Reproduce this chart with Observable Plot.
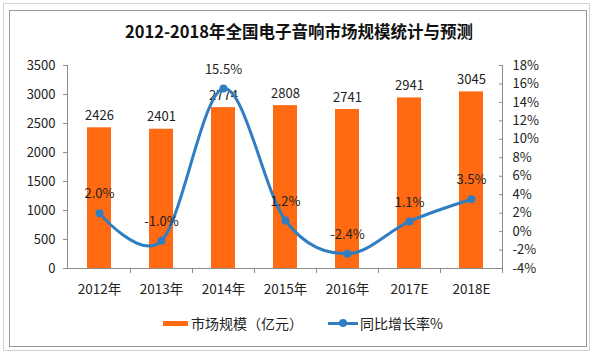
<!DOCTYPE html>
<html>
<head>
<meta charset="utf-8">
<script src="https://cdn.jsdelivr.net/npm/d3@7"></script>
<script src="https://cdn.jsdelivr.net/npm/@observablehq/plot@0.6"></script>
<style>
  html, body { margin: 0; padding: 0; background: #fff; }
  body { width: 593px; height: 352px; position: relative; overflow: hidden;
         font-family: "Noto Sans CJK SC", "Noto Sans", sans-serif; color: #222; }
  #outer { position: absolute; left: 3px; top: 3px; width: 585px; height: 346px; border: 1px solid #d4d4d4; }
  #inner { position: absolute; left: 9px; top: 10px; width: 576px; height: 335px; border: 1px solid #999; }
  #title { position: absolute; left: 0; width: 598px; top: 19px; text-align: center;
           font-size: 16.5px; font-weight: 700; line-height: 24px; color: #111; }
  #chart { position: absolute; left: 0; top: 0; }
  .leg { position: absolute; font-size: 14px; line-height: 20px; top: 313px; color: #222; }
  .sw { position: absolute; }
</style>
</head>
<body>
<div id="outer"></div>
<div id="inner"></div>
<div id="title">2012-2018年全国电子音响市场规模统计与预测</div>
<div id="chart"></div>
<div class="sw" style="left:163px;top:321px;width:25px;height:5px;background:#FF6A13"></div>
<div class="leg" style="left:191px">市场规模（亿元）</div>
<div class="sw" style="left:328px;top:322px;width:30px;height:3px;background:#2F7EC2"></div>
<div class="sw" style="left:339px;top:319px;width:8px;height:8px;border-radius:50%;background:#2F7EC2"></div>
<div class="leg" style="left:360px">同比增长率%</div>
<script>
const years = ["2012年", "2013年", "2014年", "2015年", "2016年", "2017E", "2018E"];
const marketSize = [2426, 2401, 2774, 2808, 2741, 2941, 3045];
const growth = [2.0, -1.0, 15.5, 1.2, -2.4, 1.1, 3.5];
const leftTicks = [0, 500, 1000, 1500, 2000, 2500, 3000, 3500];
const rightTicks = [-4, -2, 0, 2, 4, 6, 8, 10, 12, 14, 16, 18];

const yMax = 3500, pMin = -4, pMax = 18;
const toY = p => (p - pMin) / (pMax - pMin) * yMax;
const fromY = y => Math.round(y / yMax * (pMax - pMin) + pMin);

const data = years.map((year, i) => ({year, size: marketSize[i], g: growth[i], gy: toY(growth[i])}));

const W = 593, H = 310;
const barColor = "#FF6A13", lineColor = "#2F7EC2", axisColor = "#8c8c8c";
const font = '"Noto Sans CJK SC", "Noto Sans", sans-serif';

const chart = Plot.plot({
  width: W,
  height: H,
  marginLeft: 67,
  marginRight: 91,
  marginTop: 65,
  marginBottom: 42,
  style: {fontFamily: font, fontSize: "13px", color: "#222", background: "transparent"},
  x: {domain: years, padding: 0},
  y: {domain: [0, yMax]},
  marks: [
    Plot.barY(data, {x: "year", y: "size", fill: barColor, insetLeft: 19, insetRight: 19}),
    Plot.frame({anchor: "left", stroke: axisColor}),
    Plot.frame({anchor: "right", stroke: axisColor}),
    Plot.ruleY([0], {stroke: axisColor}),
    Plot.axisY({anchor: "left", ticks: leftTicks, tickFormat: d => String(d), tickSize: 4, tickPadding: 8, stroke: axisColor, fontSize: 13, label: null}),
    Plot.axisY({anchor: "right", ticks: rightTicks.map(toY), tickFormat: d => fromY(d) + "%", tickSize: -4, tickPadding: 14, stroke: axisColor, fontSize: 13, label: null}),
    Plot.axisX({anchor: "bottom", tickSize: 5, dx: 31, text: null, stroke: axisColor, label: null}),
    Plot.axisX({anchor: "bottom", tickSize: 0, tickPadding: 16, fontSize: 13.5, label: null}),
    Plot.text(data, {x: "year", y: "size", text: d => String(d.size), dy: -12, lineAnchor: "middle", fontSize: 13, fill: "#222"}),
    Plot.line(data, {x: "year", y: "gy", stroke: lineColor, strokeWidth: 3, curve: "cardinal"}),
    Plot.dot(data, {x: "year", y: "gy", r: 4, fill: lineColor, stroke: null}),
    Plot.text(data, {x: "year", y: "gy", text: d => d.g.toFixed(1) + "%", dy: -19, lineAnchor: "middle", fontSize: 13, fill: "#222"})
  ]
});
document.getElementById("chart").appendChild(chart);
</script>
</body>
</html>
